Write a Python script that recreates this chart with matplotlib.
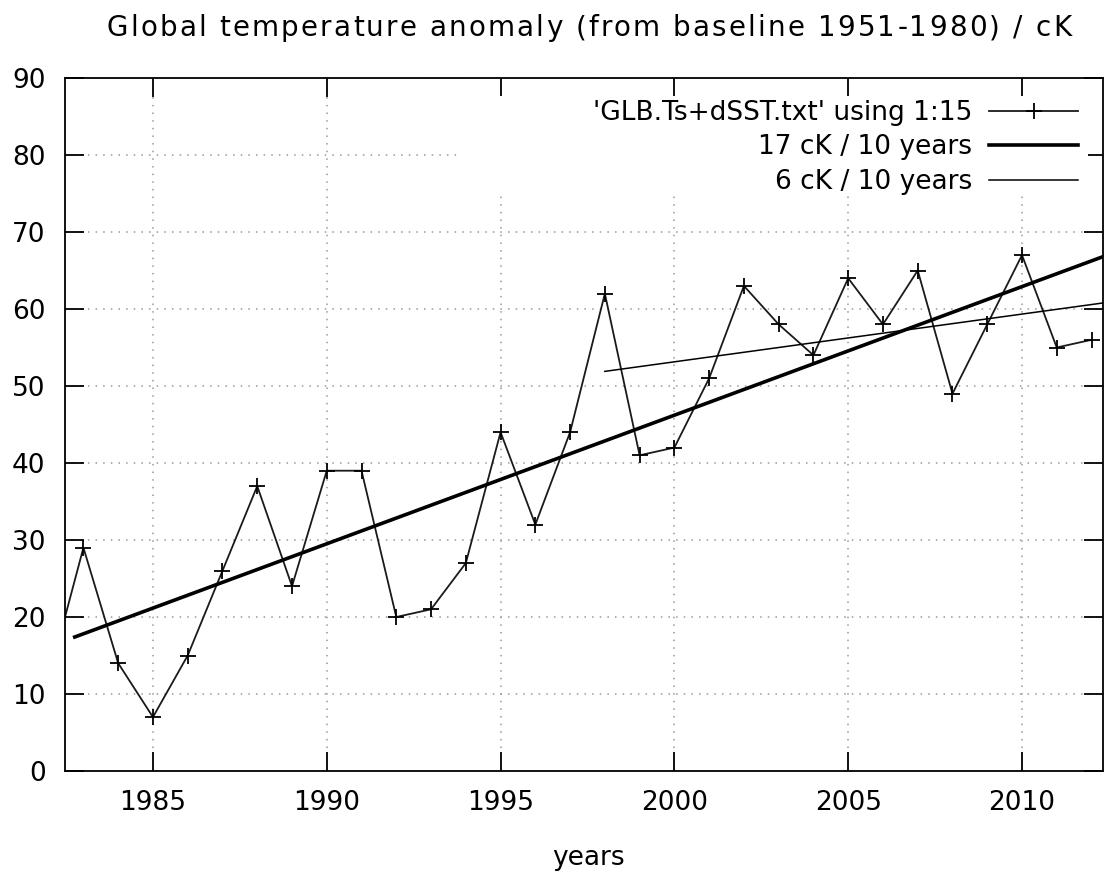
import matplotlib.pyplot as plt
from matplotlib.font_manager import FontProperties
from matplotlib.patches import Rectangle
import numpy as np

years = np.arange(1982, 2013)
anomaly = [12, 29, 14, 7, 15, 26, 37, 24, 39, 39, 20, 21, 27, 44, 32, 44,
           62, 41, 42, 51, 63, 58, 54, 64, 58, 65, 49, 58, 67, 55, 56]

# linear fits: (start year, end year, value at start, slope per year)
fit_long = (1982.75, 2012.5, 17.4, 1.67)
fit_short = (1998.0, 2012.5, 51.9, 0.62)

title = 'Global temperature anomaly (from baseline 1951-1980) / cK'

plt.rcParams['font.family'] = 'DejaVu Sans'
W, H = 1109, 873
fig = plt.figure(figsize=(W / 100, H / 100), dpi=100)
ax = fig.add_axes([65 / W, 1 - 771 / H, (1103 - 65) / W, (771 - 78) / H])

ax.plot(years, anomaly, color='#1a1a1a', lw=1.3, marker='+', ms=11, mew=1.3,
        mec='black', label="'GLB.Ts+dSST.txt' using 1:15")

for fit, lw, lab in [(fit_long, 2.6, '17 cK / 10 years'), (fit_short, 1.1, '6 cK / 10 years')]:
    x0, x1, v0, k = fit
    xs = np.array([x0, x1])
    ax.plot(xs, v0 + k * (xs - x0), color='black', lw=lw, label=lab)

ax.set_xlim(1982.47, 2012.33)
ax.set_ylim(0, 90)
ax.set_xticks([1985, 1990, 1995, 2000, 2005, 2010])
ax.set_yticks(range(0, 91, 10))
ax.tick_params(direction='in', length=14, width=1.3, labelsize=19, top=True, right=True)
ax.tick_params(axis='x', pad=14)
ax.tick_params(axis='y', pad=14)
ax.grid(True, color='#999999', ls=(0, (1, 4)), lw=1.1)
for s in ax.spines.values():
    s.set_linewidth(1.3)

fig.text(588 / W, 1 - 865 / H, 'years', fontsize=19, ha='center', va='baseline')

# gnuplot blanks a wide box behind the key
ax.add_patch(Rectangle((0.3805, 0.831), 0.605, 0.143, transform=ax.transAxes,
                       facecolor='white', edgecolor='none', zorder=4))
leg = ax.legend(loc='upper right', bbox_to_anchor=(0.9795, 0.974), frameon=False,
                markerfirst=False, fontsize=19, handlelength=3.35, handletextpad=0.65,
                labelspacing=0.32, borderpad=0.15, borderaxespad=0)

# gnuplot-style title with a little letter spacing, drawn char by char
prop = FontProperties(family='DejaVu Sans', size=20)
r = fig.canvas.get_renderer()
def tw(s):
    return r.get_text_width_height_descent(s + '|', prop, ismath=False)[0] - \
        r.get_text_width_height_descent('|', prop, ismath=False)[0]
extra = 2.2
total = tw(title) + extra * (len(title) - 1)
start = 589 - total / 2
for i, ch in enumerate(title):
    fig.text((start + tw(title[:i]) + extra * i) / W, 1 - 36 / H, ch,
             fontproperties=prop, ha='left', va='baseline')

fig.savefig('out.png', dpi=100)
